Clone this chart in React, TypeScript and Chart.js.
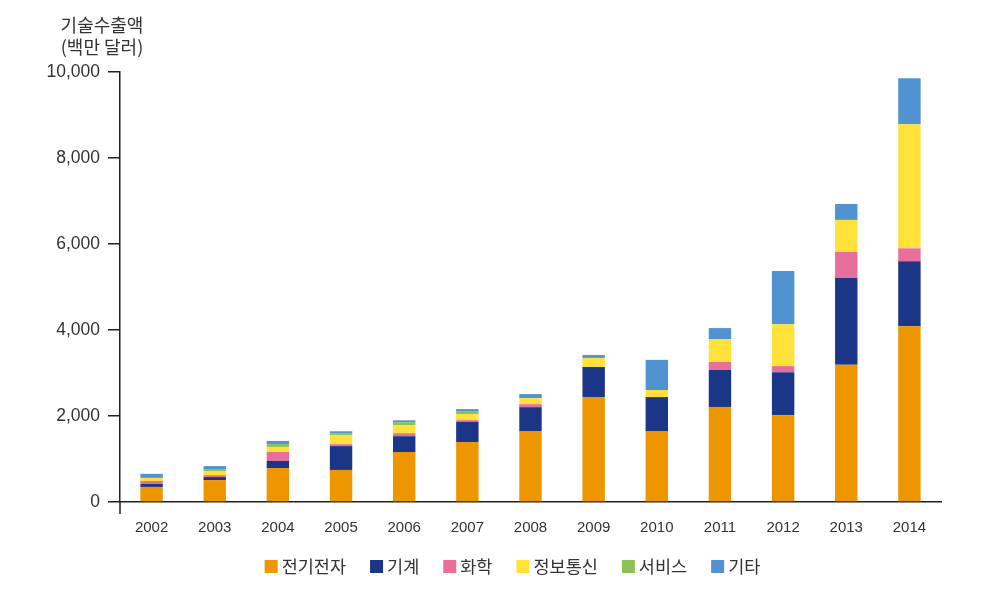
import React, { useEffect, useRef } from "react";
import { Chart, registerables } from "chart.js";

Chart.register(...registerables);

const years = ["2002", "2003", "2004", "2005", "2006", "2007", "2008", "2009", "2010", "2011", "2012", "2013", "2014"];
const seriesNames = ["전기전자", "기계", "화학", "정보통신", "서비스", "기타"];
const electronics = [350, 510, 790, 745, 1160, 1395, 1650, 2440, 1650, 2210, 2020, 3190, 4090];
const machinery = [70, 70, 165, 555, 370, 465, 555, 700, 790, 860, 1000, 2020, 1510];
const chemical = [70, 45, 210, 45, 70, 45, 70, 0, 0, 185, 140, 605, 300];
const ict = [70, 95, 115, 210, 185, 140, 140, 210, 165, 535, 975, 745, 2885];
const services = [0, 45, 70, 45, 70, 70, 0, 0, 0, 0, 0, 0, 0];
const others = [95, 70, 70, 45, 45, 45, 95, 70, 700, 255, 1235, 370, 1070];
const seriesColors = ["#EE9600", "#1C3687", "#E76F99", "#FEE23A", "#8CC157", "#5093D0"];
const yTicks = [0, 2000, 4000, 6000, 8000, 10000];
const yTitleLines = ["기술수출액", "(백만 달러)"];

const FONT = "'Liberation Sans', Arial, 'Noto Sans CJK KR', sans-serif";
const KFONT = "'Noto Sans CJK KR', 'Liberation Sans', sans-serif";
const TEXT = "#333333";
const AXIS = "#231F20";

const decorPlugin = {
  id: "decor",
  afterDraw(chart: any) {
    const ctx = chart.ctx;
    const area = chart.chartArea;
    ctx.save();
    ctx.strokeStyle = AXIS;
    ctx.lineWidth = 1.5;
    ctx.beginPath();
    ctx.moveTo(area.left, area.bottom);
    ctx.lineTo(area.left, area.bottom + 12);
    ctx.stroke();
    ctx.fillStyle = TEXT;
    ctx.font = "18px " + KFONT;
    ctx.textAlign = "center";
    ctx.textBaseline = "middle";
    ctx.fillText(yTitleLines[0], 102, 25);
    ctx.fillText(yTitleLines[1], 102, 47);
    const box = 13;
    const gap = 4;
    const itemGap = 24;
    ctx.font = "17.5px " + KFONT;
    const ds = chart.data.datasets;
    const widths = ds.map((d: any) => ctx.measureText(d.label).width);
    let total = 0;
    widths.forEach((w: number, i: number) => {
      total += box + gap + w + (i < widths.length - 1 ? itemGap : 0);
    });
    let x = 512.5 - total / 2;
    const cy = 566.5;
    ctx.textAlign = "left";
    ds.forEach((d: any, i: number) => {
      ctx.fillStyle = d.backgroundColor;
      ctx.fillRect(x, cy - box / 2, box, box);
      ctx.fillStyle = TEXT;
      ctx.fillText(d.label, x + box + gap, cy);
      x += box + gap + widths[i] + itemGap;
    });
    ctx.restore();
  },
};

export default function App() {
  const ref = useRef<HTMLCanvasElement | null>(null);
  useEffect(() => {
    document.body.style.margin = "0";
    const values = [electronics, machinery, chemical, ict, services, others];
    const chart = new Chart(ref.current as HTMLCanvasElement, {
      type: "bar",
      data: {
        labels: years,
        datasets: seriesNames.map((name, i) => ({
          label: name,
          data: values[i],
          backgroundColor: seriesColors[i],
          borderWidth: 0,
          barPercentage: 1,
          categoryPercentage: 0.355,
        })),
      },
      options: {
        animation: false,
        responsive: false,
        maintainAspectRatio: false,
        layout: { padding: { top: 72, right: 52, bottom: 0, left: 0 } },
        plugins: {
          legend: { display: false },
          tooltip: { enabled: false },
          title: { display: false },
        },
        scales: {
          x: {
            stacked: true,
            grid: { display: false },
            border: { display: true, color: AXIS, width: 1.5 },
            ticks: { color: TEXT, font: { family: FONT, size: 15 }, padding: 9, maxRotation: 0 },
            afterFit(scale: any) {
              scale.height = 92;
            },
          },
          y: {
            stacked: true,
            min: 0,
            max: 10000,
            afterBuildTicks(scale: any) {
              scale.ticks = yTicks.map((v) => ({ value: v }));
            },
            grid: { display: true, drawOnChartArea: false, drawTicks: true, tickLength: 12, color: AXIS, lineWidth: 1.5 },
            border: { display: true, color: AXIS, width: 1.5 },
            ticks: {
              color: TEXT,
              font: { family: FONT, size: 17.5 },
              padding: 8,
              callback: (v: any) => Number(v).toLocaleString("en-US"),
            },
            afterFit(scale: any) {
              scale.width = 120;
            },
          },
        },
      },
      plugins: [decorPlugin],
    });
    return () => chart.destroy();
  }, []);
  return (
    <div style={{ width: 993, height: 594, position: "relative" }}>
      <canvas ref={ref} width={993} height={594} style={{ width: 993, height: 594, display: "block" }} />
    </div>
  );
}
